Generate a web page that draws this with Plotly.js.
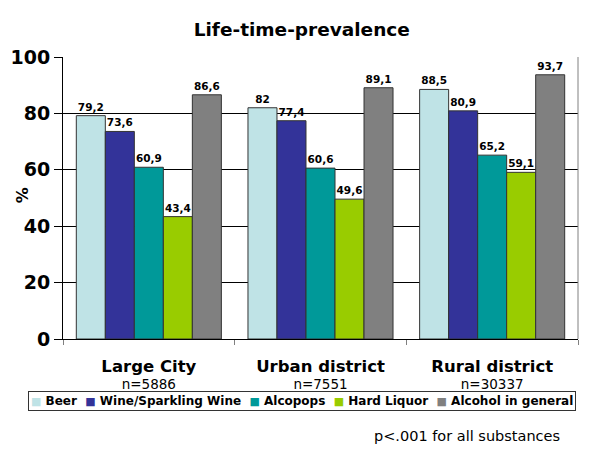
<!DOCTYPE html>
<html><head><meta charset="utf-8">
<script src="https://cdn.plot.ly/plotly-3.0.1.min.js"></script>
<style>body{margin:0;background:#fff}#c{width:600px;height:450px}</style>
</head><body><div id="c"></div>
<script>
const categories = ["Large City", "Urban district", "Rural district"];
const sampleSizes = ["n=5886", "n=7551", "n=30337"];
const seriesNames = ["Beer", "Wine/Sparkling Wine", "Alcopops", "Hard Liquor", "Alcohol in general"];
const beer = [79.2, 82, 88.5];
const wine = [73.6, 77.4, 80.9];
const alcopops = [60.9, 60.6, 65.2];
const hardLiquor = [43.4, 49.6, 59.1];
const alcoholGeneral = [86.6, 89.1, 93.7];
const yTicks = [0, 20, 40, 60, 80, 100];

const colors = ["#bfe3e6", "#333399", "#009999", "#99cc00", "#808080"];
const allSeries = [beer, wine, alcopops, hardLiquor, alcoholGeneral];
const fmt = v => String(v).replace('.', ',');

const traces = allSeries.map((vals, i) => ({
  type: 'bar',
  name: seriesNames[i],
  x: categories,
  y: vals,
  text: vals.map(fmt),
  textposition: 'outside',
  cliponaxis: false,
  textfont: {family: 'DejaVu Sans', size: 10.5, color: '#000', weight: 'bold'},
  marker: {color: colors[i], line: {color: '#333333', width: 1}},
  hoverinfo: 'none'
}));

const ticktext = categories.map((c, i) =>
  '<b style="font-size:16.5px">' + c + '</b><br><span style="font-size:13.5px">' + sampleSizes[i] + '</span>');

const legendText = seriesNames.map((n, i) =>
  '<span style="font-size:11px;color:' + colors[i] + '">■</span> ' + n).join('  ');

const layout = {
  width: 600, height: 450,
  margin: {l: 63, r: 22, t: 57, b: 111},
  paper_bgcolor: '#fff', plot_bgcolor: '#fff',
  font: {family: 'DejaVu Sans', color: '#000'},
  title: {text: '<b>Life-time-prevalence</b>', font: {size: 18.5, family: 'DejaVu Sans'}, x: 0.503, xref: 'container', xanchor: 'center', y: 0.935, yanchor: 'middle'},
  barmode: 'group',
  bargap: 0.155,
  bargroupgap: 0,
  showlegend: false,
  xaxis: {
    type: 'category', tickvals: categories, ticktext: ticktext,
    tickson: 'boundaries', ticks: 'outside', ticklen: 5, tickcolor: '#808080',
    showline: true, linecolor: '#000', linewidth: 1, showgrid: false,
    tickfont: {size: 13, family: 'DejaVu Sans'}, ticklabelstandoff: 16, automargin: false
  },
  yaxis: {
    range: [0, 100], tickvals: yTicks, ticks: 'outside', ticklen: 8, tickcolor: '#000',
    showline: true, linecolor: '#000', linewidth: 1,
    showgrid: true, gridcolor: '#000', gridwidth: 1, zeroline: false,
    tickfont: {size: 19, family: 'DejaVu Sans', weight: 'bold'},
    automargin: false
  },
  shapes: [{type: 'line', xref: 'paper', yref: 'paper', x0: 1, x1: 1, y0: 0, y1: 1, line: {color: '#808080', width: 1}}],
  annotations: [
    {text: '<b>%</b>', xref: 'paper', yref: 'paper', x: -0.0796, y: 0.51, xanchor: 'center', yanchor: 'middle', textangle: -90, showarrow: false, font: {size: 16, family: 'DejaVu Sans'}},
    {text: legendText, xref: 'paper', yref: 'paper', x: 0.464, xanchor: 'center', y: -0.2216, yanchor: 'middle', showarrow: false,
     font: {size: 12, family: 'DejaVu Sans', weight: 'bold'}, bordercolor: '#333', borderwidth: 1, borderpad: 2},
    {text: 'p<.001 for all substances', xref: 'paper', yref: 'paper', x: 0.969, xanchor: 'right', y: -0.344, yanchor: 'middle', showarrow: false, font: {size: 14.5, family: 'DejaVu Sans'}}
  ]
};
Plotly.newPlot('c', traces, layout, {displayModeBar: false, staticPlot: true});
</script></body></html>
